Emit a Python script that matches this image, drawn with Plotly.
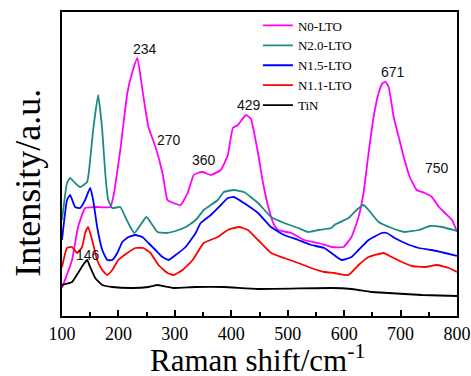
import plotly.graph_objects as go

# ---------------- data (Raman shift in cm-1, intensity in arbitrary units) ----------------
n0_x = [100, 117.8, 128.5, 141, 158.8, 185.5, 190.8, 203.3, 215.8, 224.7, 233.6, 242.5, 253.2,
        265.7, 278.1, 287, 297.7, 310.2, 322.7, 333.4, 340.5, 349.4, 363.6, 381.4, 393.9, 402.8,
        411.7, 426, 434.9, 440.2, 447.4, 456.3, 467, 475.9, 483, 506.1, 529.3, 554.2, 577.4,
        598.8, 613, 625.5, 634.4, 643.3, 652.2, 661.1, 668.2, 673.6, 678.9, 687.8, 696.7, 705.6,
        716.3, 728.8, 743, 755.5, 768, 778.7, 791.2, 800]
n0_y = [28, 56, 89, 108, 109, 109, 119, 166, 223, 244, 258, 226, 189,
        169, 143, 116, 113, 111, 123, 141, 143, 144, 141, 146, 161, 188,
        191, 201, 197, 184, 163, 133, 106, 91, 86, 83, 76, 73, 69,
        69, 79, 99, 123, 163, 199, 223, 233, 234, 229, 199, 179, 159,
        139, 126, 123, 119, 109, 103, 96, 84]

n20_x = [100, 108.9, 114.3, 123.2, 132.1, 144.5, 149.9, 155.2, 164.1, 171.3, 176.6, 181.9, 189.1,
         203.3, 212.2, 221.1, 228.3, 238.9, 249.6, 260.3, 269.2, 283.5, 301.3, 319.1, 336.9,
         351.2, 376.1, 386.8, 404.6, 422.4, 447.4, 470.5, 493.7, 518.6, 536.4, 554.2, 577.4,
         582.7, 607.7, 621.9, 634.4, 643.3, 661.1, 684.3, 707.4, 732.4, 751.9, 773.3, 800]
n20_y = [96, 133, 138, 133, 129, 134, 156, 186, 221, 186, 143, 116, 108,
         109, 99, 89, 83, 91, 99, 91, 84, 83, 85, 89, 96,
         106, 116, 124, 126, 124, 113, 99, 93, 88, 84, 86, 88,
         91, 98, 106, 111, 106, 94, 88, 84, 86, 90, 89, 85]

n15_x = [100, 108.9, 114.3, 123.2, 132.1, 141, 149.9, 155.2, 162.3, 171.3, 180.2, 189.1, 198,
         206.9, 217.6, 230, 242.5, 253.2, 265.7, 278.1, 288.8, 301.3, 319.1, 336.9, 345.8,
         363.6, 381.4, 393.9, 404.6, 422.4, 447.4, 470.5, 493.7, 518.6, 541.8, 564.9, 595.2,
         613, 625.5, 643.3, 666.5, 675.4, 689.6, 707.4, 732.4, 755.5, 778.7, 800]
n15_y = [76, 116, 121, 109, 108, 116, 128, 116, 89, 66, 56, 56, 63,
         74, 79, 81, 79, 73, 66, 59, 56, 61, 69, 83, 93,
         101, 111, 118, 119, 113, 103, 89, 81, 76, 71, 68, 56,
         59, 66, 76, 83, 83, 78, 73, 68, 66, 63, 60]

n11_x = [100, 108.9, 117.8, 126.7, 135.6, 141, 146.3, 153.4, 162.3, 171.3, 180.2, 189.1, 199.8,
         215.8, 230, 244.3, 256.8, 271, 287, 297.7, 313.8, 331.6, 351.2, 376.1, 393.9, 413.5,
         429.5, 447.4, 470.5, 493.7, 518.6, 541.8, 564.9, 582.7, 607.7, 625.5, 643.3, 670,
         684.3, 702.1, 719.9, 743, 764.4, 785.8, 800]
n11_y = [49, 68, 69, 63, 69, 83, 89, 76, 56, 46, 41, 46, 56,
         63, 68, 68, 63, 51, 43, 41, 46, 56, 73, 79, 86, 89,
         86, 76, 63, 58, 53, 48, 44, 43, 41, 51, 59, 63,
         59, 54, 50, 49, 51, 48, 44]

tin_x = [100, 117.8, 128.5, 137.4, 144.5, 149.9, 158.8, 171.3, 189.1, 224.7, 253.2, 269.2, 278.1,
         297.7, 336.9, 386.8, 447.4, 577.4, 613, 625.5, 648.6, 678.9, 707.4, 737.7, 800]
tin_y = [31, 34, 43, 51, 56, 49, 38, 31, 29, 28, 29, 31, 30,
         28, 29, 29, 27, 28, 27, 26, 24, 23, 22, 21, 20]

series_names = ["N0-LTO", "N2.0-LTO", "N1.5-LTO", "N1.1-LTO", "TiN"]
series_x = [n0_x, n20_x, n15_x, n11_x, tin_x]
series_y = [n0_y, n20_y, n15_y, n11_y, tin_y]
series_colors = ["#FF00FF", "#1E8A84", "#0000FF", "#FF0000", "#000000"]

peak_labels = ["234", "270", "360", "429", "671", "750", "146"]
peak_x = [247.8, 288.8, 351.2, 431.3, 686.0, 764.4, 146.3]
peak_y = [267, 176, 156, 211, 244, 148, 61]

x_ticks = [100, 200, 300, 400, 500, 600, 700, 800]

SERIF = "Liberation Serif"
SANS = "Liberation Sans"

# ---------------- figure ----------------
fig = go.Figure()
for name, xs, ys, col in zip(series_names, series_x, series_y, series_colors):
    fig.add_trace(go.Scatter(x=xs, y=ys, mode="lines", name=name,
                             line=dict(color=col, width=1.8, shape="spline", smoothing=0.4)))

for t, px, py in zip(peak_labels, peak_x, peak_y):
    fig.add_annotation(x=px, y=py, text=t, showarrow=False, xanchor="center", yanchor="middle",
                       font=dict(family=SANS, size=14, color="#111"))

# axis titles as annotations (positioned like the reference)
fig.add_annotation(xref="paper", yref="paper", x=-0.085, y=0.44, text="Intensity/a.u.",
                   textangle=-90, showarrow=False, xanchor="center", yanchor="middle",
                   font=dict(family=SERIF, size=36, color="#000"))
fig.add_annotation(xref="paper", yref="paper", x=0.495, y=-0.14, text="Raman shift/cm<sup>-1</sup>",
                   showarrow=False, xanchor="center", yanchor="middle",
                   font=dict(family=SERIF, size=31, color="#000"))

fig.update_layout(
    width=471, height=376,
    margin=dict(l=62, r=14, t=12, b=60, autoexpand=False),
    paper_bgcolor="white", plot_bgcolor="white",
    font=dict(family=SERIF, color="#000"),
    showlegend=True,
    legend=dict(x=0.496, y=1.005, xanchor="left", yanchor="top", bgcolor="rgba(0,0,0,0)",
                borderwidth=0, tracegroupgap=0,
                font=dict(family=SERIF, size=13, color="#000")),
    xaxis=dict(range=[100, 800], tickmode="array", tickvals=x_ticks, automargin=False,
               ticks="inside", ticklen=6, tickwidth=1.5, tickcolor="#000",
               minor=dict(ticks="inside", ticklen=4, tickwidth=1.5, dtick=50, tickcolor="#000"),
               showline=True, linecolor="#000", linewidth=2, mirror=True,
               showgrid=False, zeroline=False,
               tickfont=dict(family=SERIF, size=18, color="#000")),
    yaxis=dict(range=[0, 304], showticklabels=False, ticks="", automargin=False,
               showline=True, linecolor="#000", linewidth=2, mirror=True,
               showgrid=False, zeroline=False),
)

# remove the browser's default 8px page margin so the figure sits at the window origin
fig.write_html("out.html", config={"displayModeBar": False},
               post_script="document.body.style.margin='0';")
